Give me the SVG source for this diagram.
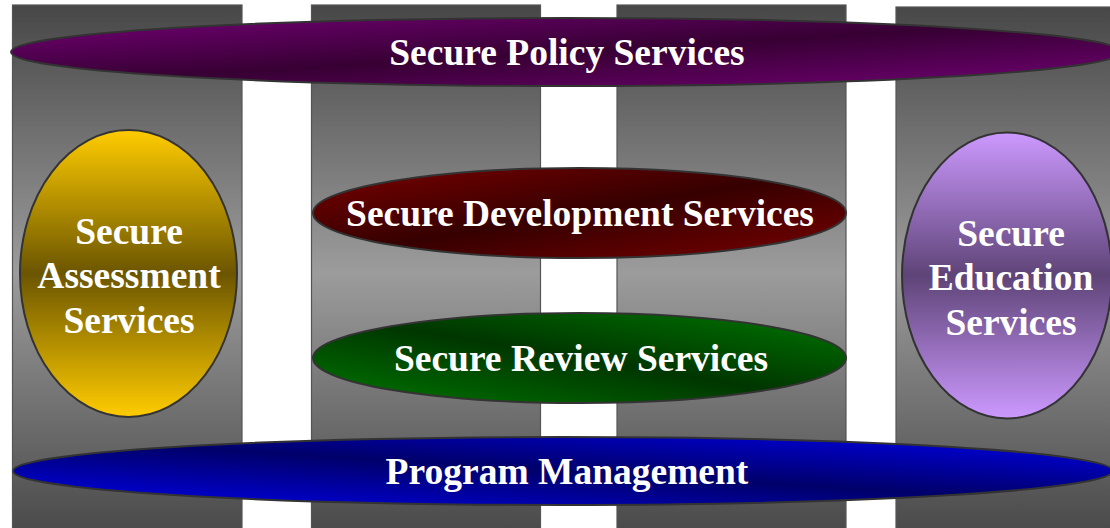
<svg xmlns="http://www.w3.org/2000/svg" width="1110" height="528" viewBox="0 0 1110 528">
<style>
.col{stroke:#555;stroke-width:1.2;fill:url(#gCol)}
.ell{stroke:#333;stroke-width:2}
.t{font-family:"Liberation Serif","Times New Roman",serif;font-weight:bold;font-size:37.5px;fill:#fff;text-anchor:middle}
</style>
<defs>
<linearGradient id="gCol" gradientUnits="userSpaceOnUse" x1="0" y1="5" x2="0" y2="540">
<stop offset="0" stop-color="#474747"/><stop offset="0.5" stop-color="#9c9c9c"/><stop offset="1" stop-color="#474747"/>
</linearGradient>
<linearGradient id="gPur" x1="0" y1="0" x2="1" y2="1">
<stop offset="0" stop-color="#730076"/><stop offset="0.5" stop-color="#370033"/><stop offset="1" stop-color="#730076"/>
</linearGradient>
<linearGradient id="gRed" x1="0" y1="0" x2="1" y2="1">
<stop offset="0" stop-color="#7a0000"/><stop offset="0.5" stop-color="#360000"/><stop offset="1" stop-color="#7a0000"/>
</linearGradient>
<linearGradient id="gGrn" x1="0" y1="1" x2="1" y2="0">
<stop offset="0" stop-color="#007800"/><stop offset="0.5" stop-color="#003600"/><stop offset="1" stop-color="#007800"/>
</linearGradient>
<linearGradient id="gBlu" x1="0" y1="1" x2="1" y2="0">
<stop offset="0" stop-color="#0000ec"/><stop offset="0.5" stop-color="#00006a"/><stop offset="1" stop-color="#0000ec"/>
</linearGradient>
<linearGradient id="gYel" x1="0" y1="0" x2="0" y2="1">
<stop offset="0" stop-color="#ffcc00"/><stop offset="0.5" stop-color="#6b5500"/><stop offset="1" stop-color="#ffcc00"/>
</linearGradient>
<linearGradient id="gLav" x1="0" y1="0" x2="0" y2="1">
<stop offset="0" stop-color="#cc99ff"/><stop offset="0.5" stop-color="#5e4477"/><stop offset="1" stop-color="#cc99ff"/>
</linearGradient>
</defs>
<rect width="1110" height="528" fill="#fff"/>
<g id="columns">
<rect class="col" x="12.5" y="5" width="229.5" height="540"/>
<rect class="col" x="311.5" y="5" width="229" height="540"/>
<rect class="col" x="617" y="5" width="229" height="540"/>
<rect class="col" x="896" y="7" width="230" height="540"/>
</g>
<g id="policy">
<ellipse class="ell" cx="566" cy="52" rx="555" ry="34" fill="url(#gPur)"/>
<text class="t" x="567" y="65">Secure Policy Services</text>
</g>
<g id="assessment">
<ellipse class="ell" cx="128.5" cy="273.5" rx="108.5" ry="143.5" fill="url(#gYel)"/>
<text class="t" x="129" y="244">Secure</text>
<text class="t" x="129" y="288">Assessment</text>
<text class="t" x="129" y="333">Services</text>
</g>
<g id="education">
<ellipse class="ell" cx="1007" cy="275.5" rx="105" ry="143" fill="url(#gLav)"/>
<text class="t" x="1011" y="246">Secure</text>
<text class="t" x="1011" y="290">Education</text>
<text class="t" x="1011" y="335">Services</text>
</g>
<g id="development">
<ellipse class="ell" cx="579.5" cy="213" rx="266.5" ry="45" fill="url(#gRed)"/>
<text class="t" x="580" y="226">Secure Development Services</text>
</g>
<g id="review">
<ellipse class="ell" cx="579.5" cy="358" rx="266.5" ry="45" fill="url(#gGrn)"/>
<text class="t" x="581" y="371">Secure Review Services</text>
</g>
<g id="program">
<ellipse class="ell" cx="563" cy="471" rx="550" ry="34" fill="url(#gBlu)"/>
<text class="t" x="567" y="484">Program Management</text>
</g>
<g id="connectors"/>
</svg>
